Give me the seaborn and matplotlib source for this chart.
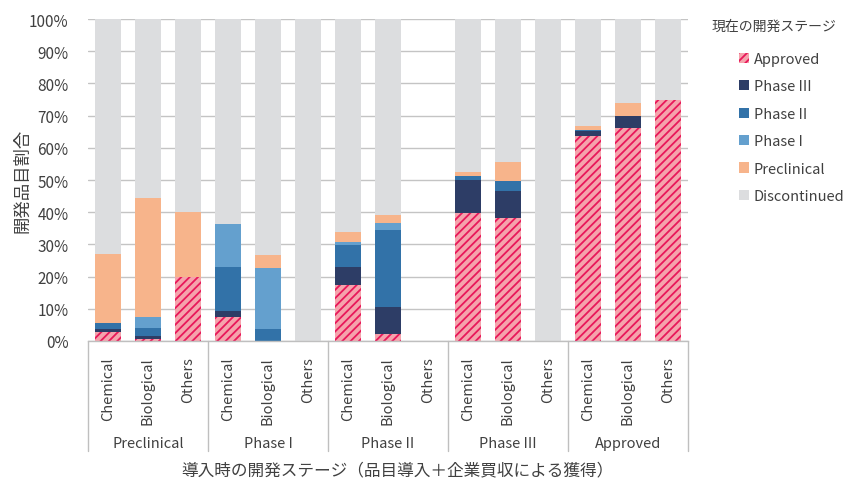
import matplotlib
matplotlib.use("Agg")
import matplotlib.pyplot as plt
import matplotlib.transforms as mtransforms
from matplotlib.patches import Patch
import pandas as pd
import seaborn as sns

# Development stage at the time of in-licensing / acquisition, and modality
entry_stages = ["Preclinical", "Phase I", "Phase II", "Phase III", "Approved"]
modalities = ["Chemical", "Biological", "Others"]

# Current development stage shares (%), one value per bar (stage x modality)
approved     = [2.8, 0.7, 20.0, 7.6, 0.0, 0.0, 17.5, 2.1, 0.0, 39.6, 38.1, 0.0, 63.7, 66.0, 75.0]
phase3       = [0.9, 0.8, 0.0, 1.8, 0.0, 0.0, 5.4, 8.6, 0.0, 10.3, 8.6, 0.0, 1.4, 4.0, 0.0]
phase2       = [1.9, 2.5, 0.0, 13.5, 3.6, 0.0, 6.8, 23.9, 0.0, 1.2, 3.1, 0.0, 0.3, 0.0, 0.0]
phase1       = [0.0, 3.3, 0.0, 13.5, 19.2, 0.0, 1.2, 2.2, 0.0, 0.0, 0.0, 0.0, 0.0, 0.0, 0.0]
preclinical  = [21.5, 37.1, 20.0, 0.0, 3.9, 0.0, 2.8, 2.2, 0.0, 1.3, 5.9, 0.0, 1.5, 4.0, 0.0]
discontinued = [72.9, 55.6, 60.0, 63.6, 73.3, 100.0, 66.3, 61.0, 0.0, 47.6, 44.3, 100.0, 33.1, 26.0, 25.0]

stage_names = ["Approved", "Phase III", "Phase II", "Phase I", "Preclinical", "Discontinued"]
stage_values = [approved, phase3, phase2, phase1, preclinical, discontinued]
stage_colors = ["#F5A3AC", "#2D3D66", "#3272A8", "#64A0CE", "#F7B48B", "#DCDDDF"]
HATCH_COLOR = "#E8185A"
TEXT = "#404040"

sns.set_theme(style="white")
plt.rcParams["font.family"] = ["Noto Sans CJK JP", "DejaVu Sans"]
plt.rcParams["hatch.linewidth"] = 1.3

bar_ids = [f"{s}|{m}" for s in entry_stages for m in modalities]
df = pd.DataFrame({"bar": bar_ids})
running = [0.0] * len(bar_ids)
for name, vals in zip(stage_names, stage_values):
    running = [r + v for r, v in zip(running, vals)]
    df[name] = running

fig = plt.figure(figsize=(8.48, 4.85), dpi=100)
ax = fig.add_axes([88 / 848, 1 - 342 / 485, 600 / 848, 322 / 485])

# stacked bars: draw cumulative heights from the top layer down
for name, color in reversed(list(zip(stage_names, stage_colors))):
    sns.barplot(data=df, x="bar", y=name, order=bar_ids, color=color,
                saturation=1, width=0.65, errorbar=None, linewidth=0, ax=ax)
    if name == "Approved":
        for p in ax.containers[-1]:
            p.set_hatch("////")
            p.set_edgecolor(HATCH_COLOR)
            p.set_linewidth(0)

ax.set_xlim(-0.5, len(bar_ids) - 0.5)
ax.set_ylim(0, 100)
ax.set_yticks(range(0, 101, 10))
ax.set_yticklabels([f"{v}%" for v in range(0, 101, 10)], color=TEXT, fontsize=11)
ax.yaxis.grid(True, color="#C4C4C4", linewidth=1)
ax.set_axisbelow(True)
for side in ["left", "top", "right"]:
    ax.spines[side].set_visible(False)
ax.spines["bottom"].set_color("#BFBFBF")
ax.spines["bottom"].set_linewidth(1)
ax.tick_params(axis="y", length=0, pad=14)

ax.set_xticks(range(len(bar_ids)))
ax.set_xticklabels(modalities * len(entry_stages), rotation=90, va="top",
                   color=TEXT, fontsize=10.5)
ax.tick_params(axis="x", length=0, pad=11)
ax.set_xlabel("")
ax.set_ylabel("開発品目割合", color=TEXT, fontsize=12.5, labelpad=-2)

# group separators and group labels beneath the modality labels
trans = mtransforms.blended_transform_factory(ax.transData, ax.transAxes)
for k in range(len(entry_stages) + 1):
    xk = k * 3 - 0.5
    ax.plot([xk, xk], [0, -0.342], transform=trans, color="#BFBFBF",
            linewidth=1, clip_on=False)
for k, s in enumerate(entry_stages):
    ax.text(k * 3 + 1, -0.316, s, transform=trans, ha="center", va="center",
            color=TEXT, fontsize=10.5)

fig.text(397 / 848, 1 - 471 / 485, "導入時の開発ステージ（品目導入＋企業買収による獲得）",
         ha="center", va="center", color=TEXT, fontsize=12)

# legend
fig.text(712 / 848, 1 - 27 / 485, "現在の開発ステージ", ha="left", va="center",
         color=TEXT, fontsize=10)
handles = []
for name, color in zip(stage_names, stage_colors):
    if name == "Approved":
        handles.append(Patch(facecolor=color, edgecolor=HATCH_COLOR, hatch="////",
                             linewidth=0, label=name))
    else:
        handles.append(Patch(facecolor=color, edgecolor="none", label=name))
leg = fig.legend(handles=handles, loc="upper left",
                 bbox_to_anchor=(739 / 848, 1 - 53 / 485), frameon=False,
                 fontsize=10.5, handlelength=0.7, handleheight=0.7,
                 handletextpad=0.3, labelspacing=0.92, borderpad=0, borderaxespad=0)
for t in leg.get_texts():
    t.set_color(TEXT)

fig.savefig("out.png", dpi=100)
